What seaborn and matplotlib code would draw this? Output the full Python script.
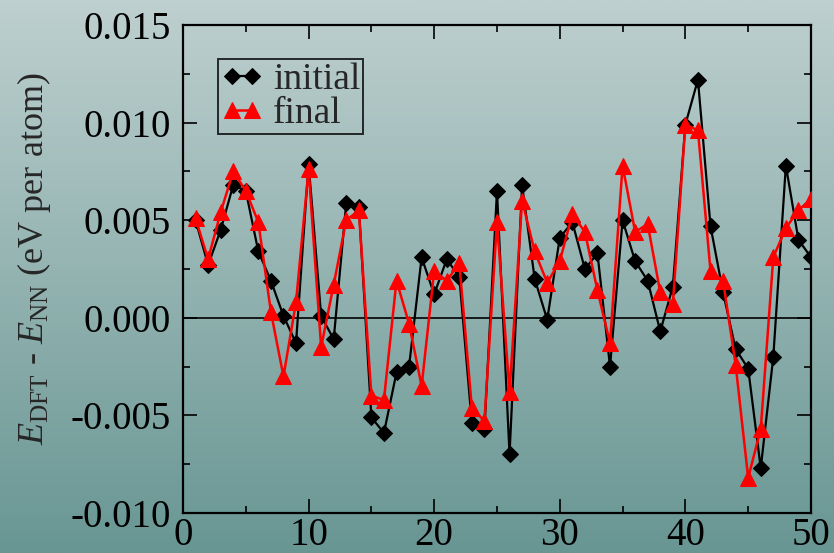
import numpy as np
import pandas as pd
import matplotlib.pyplot as plt
import seaborn as sns

structure = list(range(1, 51))
initial = [0.0050, 0.0027, 0.0045, 0.0068, 0.0065, 0.0034, 0.0019, 0.0001, -0.0013, 0.0079,
           0.0001, -0.0011, 0.0059, 0.0057, -0.0051, -0.0059, -0.0028, -0.0025, 0.0031, 0.0012,
           0.0030, 0.0021, -0.0054, -0.0057, 0.0065, -0.0070, 0.0068, 0.0020, -0.0001, 0.0041,
           0.0049, 0.0025, 0.0033, -0.0025, 0.0050, 0.0029, 0.0019, -0.0007, 0.0016, 0.0099,
           0.0122, 0.0047, 0.0013, -0.0016, -0.0026, -0.0077, -0.0020, 0.0078, 0.0040, 0.0031]
final = [0.0051, 0.0030, 0.0054, 0.0075, 0.0065, 0.0049, 0.0003, -0.0030, 0.0008, 0.0076,
         -0.0015, 0.0017, 0.0050, 0.0055, -0.0040, -0.0042, 0.0019, -0.0003, -0.0035, 0.0024,
         0.0019, 0.0028, -0.0046, -0.0053, 0.0049, -0.0038, 0.0060, 0.0034, 0.0018, 0.0029,
         0.0053, 0.0044, 0.0014, -0.0013, 0.0078, 0.0044, 0.0048, 0.0013, 0.0007, 0.0099,
         0.0096, 0.0024, 0.0019, -0.0024, -0.0082, -0.0057, 0.0031, 0.0046, 0.0055, 0.0061]

df = pd.DataFrame({'structure': structure, 'initial': initial, 'final': final})

sns.set_style('ticks')
plt.rcParams['font.family'] = ['Liberation Serif', 'DejaVu Serif']
plt.rcParams['mathtext.fontset'] = 'custom'
plt.rcParams['mathtext.rm'] = 'Liberation Serif'
plt.rcParams['mathtext.it'] = 'Liberation Serif:italic'

fig = plt.figure(figsize=(8.34, 5.53), dpi=100)

# gradient background over the whole figure
bg = fig.add_axes([0, 0, 1, 1], zorder=-1)
top = np.array([190, 208, 207]) / 255
bottom = np.array([104, 150, 147]) / 255
t = np.linspace(0, 1, 256)[:, None]
grad = (top[None, :] * (1 - t) + bottom[None, :] * t)[:, None, :]
bg.imshow(grad, aspect='auto', extent=[0, 1, 0, 1])
bg.axis('off')

ax = fig.add_axes([0.2194, 0.0723, 0.7530, 0.8825])
ax.patch.set_alpha(0)

ax.axhline(0, color='black', lw=1.2, zorder=1)
sns.lineplot(data=df, x='structure', y='initial', ax=ax, color='black', lw=1.6,
             marker='D', markersize=8.5, markeredgecolor='black', label='initial', zorder=2)
sns.lineplot(data=df, x='structure', y='final', ax=ax, color='#ff0000', lw=1.8,
             marker='^', markersize=12, markeredgecolor='#ff0000', label='final', zorder=3)

ax.set_xlim(0, 50)
ax.set_ylim(-0.010, 0.015)
ax.set_xticks([0, 10, 20, 30, 40, 50])
ax.set_xticks(np.arange(5, 50, 10), minor=True)
ax.set_yticks([-0.010, -0.005, 0.000, 0.005, 0.010, 0.015])
ax.set_yticks(np.arange(-0.0075, 0.015, 0.005), minor=True)
ax.set_yticklabels(['-0.010', '-0.005', '0.000', '0.005', '0.010', '0.015'])
ax.tick_params(which='both', direction='in', top=True, right=True, width=1.2,
               labelsize=28, color='black', labelcolor='black')
ax.tick_params(which='major', length=10)
ax.tick_params(which='minor', length=5)
ax.tick_params(axis='y', which='major', pad=9)
ax.tick_params(axis='x', which='major', pad=3)
for s in ax.spines.values():
    s.set_linewidth(1.6)
    s.set_color('black')

ax.set_xlabel('')
ax.set_ylabel(r'$E_{\mathrm{DFT}}$ - $E_{\mathrm{NN}}$ (eV per atom)', fontsize=26)
ax.yaxis.set_label_coords(-0.207, 0.522)

leg = ax.legend(loc='upper left', bbox_to_anchor=(0.055, 0.93), fontsize=27, numpoints=2,
                handlelength=1.15, handletextpad=0.25, labelspacing=0.0, borderpad=0.08,
                borderaxespad=0, fancybox=False, frameon=True)
leg.get_frame().set_edgecolor('black')
leg.get_frame().set_linewidth(1.4)
leg.get_frame().set_facecolor('none')

plt.savefig('out.png', dpi=100)
